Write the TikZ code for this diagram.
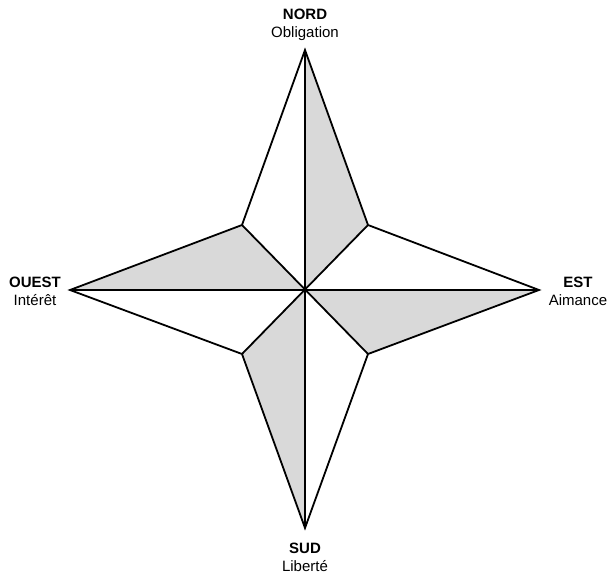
\documentclass[tikz,border=0pt]{standalone}
\usepackage{fontspec}
\setmainfont{Liberation Sans}
\begin{document}
\begin{tikzpicture}[x=1pt,y=-1pt,
  edge/.style={draw=black,line width=1.8pt,line join=miter},
  shade/.style={fill=gray!30},
  lbl/.style={align=center,font=\fontsize{15}{18}\selectfont,inner sep=0pt}]
\useasboundingbox (0,0) rectangle (608,573);
\coordinate (C) at (305,289);
\coordinate (N) at (305,50);
\coordinate (S) at (305,528);
\coordinate (W) at (70,290);
\coordinate (E) at (539,290);
\coordinate (NE) at (368,225);
\coordinate (NW) at (242,225);
\coordinate (SW) at (242,354);
\coordinate (SE) at (368,354);
% shaded halves
\fill[shade] (C) -- (N) -- (NE) -- cycle;
\fill[shade] (C) -- (W) -- (NW) -- cycle;
\fill[shade] (C) -- (S) -- (SW) -- cycle;
\fill[shade] (C) -- (E) -- (SE) -- cycle;
% outline
\draw[edge] (N) -- (NE) -- (E) -- (SE) -- (S) -- (SW) -- (W) -- (NW) -- cycle;
% inner lines
\draw[edge] (N) -- (S);
\draw[edge] (W) -- (E);
\draw[edge] (NE) -- (SW);
\draw[edge] (NW) -- (SE);
% labels
\node[lbl] (nord) at (305,25) {\textbf{NORD}\\Obligation};
\node[lbl] (sud) at (305,557) {\textbf{SUD}\\Liberté};
\node[lbl] (ouest) at (35,291) {\textbf{OUEST}\\Intérêt};
\node[lbl] (est) at (578,291) {\textbf{EST}\\Aimance};
\end{tikzpicture}
\end{document}
